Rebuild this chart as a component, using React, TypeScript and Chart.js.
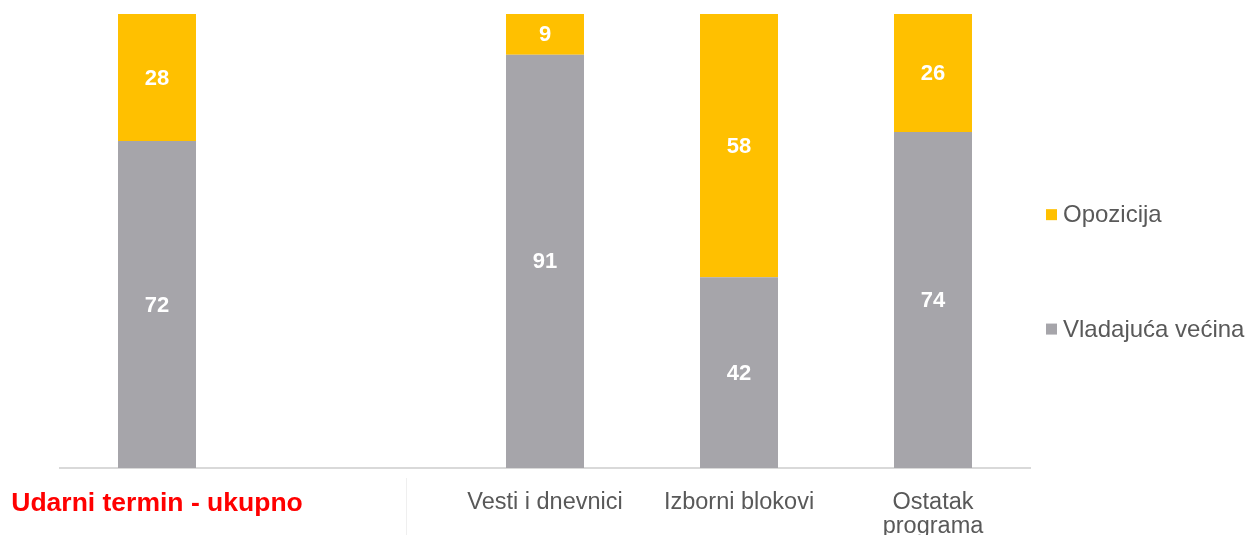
import React, { useEffect, useRef } from "react";
import { Chart, registerables } from "chart.js";

Chart.register(...registerables);

const categories: (string | string[])[] = [
  "Udarni termin - ukupno",
  "",
  "Vesti i dnevnici",
  "Izborni blokovi",
  ["Ostatak", "programa"],
];
const vladajucaVecina: (number | null)[] = [72, null, 91, 42, 74];
const opozicija: (number | null)[] = [28, null, 9, 58, 26];
const seriesNames = ["Vladajuća većina", "Opozicija"];
const seriesColors = ["#A6A5AA", "#FFC000"];

const FONT = "'Liberation Sans', Arial, sans-serif";

const valueLabels = {
  id: "valueLabels",
  afterDatasetsDraw(chart: any) {
    const ctx = chart.ctx;
    ctx.save();
    ctx.fillStyle = "#ffffff";
    ctx.font = `bold 22px ${FONT}`;
    ctx.textAlign = "center";
    ctx.textBaseline = "middle";
    chart.data.datasets.forEach((ds: any, di: number) => {
      const meta = chart.getDatasetMeta(di);
      meta.data.forEach((el: any, i: number) => {
        const v = ds.data[i];
        if (v === null || v === undefined) return;
        ctx.fillText(String(v), el.x, (el.y + el.base) / 2 + 1);
      });
    });
    ctx.restore();
  },
};

const sideLegend = {
  id: "sideLegend",
  afterDraw(chart: any) {
    const ctx = chart.ctx;
    const area = chart.chartArea;
    const yScale = chart.scales.y;
    const x = area.right + 16;
    const rows = [
      { label: seriesNames[1], color: seriesColors[1], y: yScale.getPixelForValue(55.8) },
      { label: seriesNames[0], color: seriesColors[0], y: yScale.getPixelForValue(30.6) },
    ];
    ctx.save();
    ctx.font = `24px ${FONT}`;
    ctx.textBaseline = "middle";
    ctx.textAlign = "left";
    rows.forEach((r) => {
      ctx.fillStyle = r.color;
      ctx.fillRect(x, r.y - 5.5, 11, 11);
      ctx.fillStyle = "#595959";
      ctx.fillText(r.label, x + 17, r.y + 1);
    });
    ctx.strokeStyle = "#efefef";
    ctx.lineWidth = 1;
    ctx.beginPath();
    ctx.moveTo(406.5, area.bottom + 10);
    ctx.lineTo(406.5, chart.height);
    ctx.stroke();
    ctx.restore();
  },
};

export default function App() {
  const ref = useRef<HTMLCanvasElement | null>(null);
  useEffect(() => {
    if (!ref.current) return;
    const chart = new Chart(ref.current, {
      type: "bar",
      data: {
        labels: categories as any,
        datasets: [
          {
            label: seriesNames[0],
            data: vladajucaVecina,
            backgroundColor: seriesColors[0],
            categoryPercentage: 1,
            barPercentage: 0.402,
          },
          {
            label: seriesNames[1],
            data: opozicija,
            backgroundColor: seriesColors[1],
            categoryPercentage: 1,
            barPercentage: 0.402,
          },
        ],
      },
      options: {
        animation: false,
        responsive: true,
        maintainAspectRatio: false,
        layout: { padding: { left: 60, right: 219, top: 14, bottom: 0 } },
        plugins: { legend: { display: false }, tooltip: { enabled: false } },
        scales: {
          x: {
            stacked: true,
            grid: { display: false },
            border: { display: true, color: "#D9D9D9", width: 2 },
            afterFit: (scale: any) => {
              scale.height = 67;
              scale.paddingLeft = 0;
              scale.paddingRight = 0;
            },
            ticks: {
              autoSkip: false,
              maxRotation: 0,
              minRotation: 0,
              padding: 14,
              color: (c: any) => (c.index === 0 ? "#FF0000" : "#595959"),
              font: (c: any) =>
                c.index === 0
                  ? { family: FONT, size: 26.5, weight: "bold", lineHeight: 1.0 }
                  : { family: FONT, size: 23.5, weight: "normal", lineHeight: 1.04 },
            },
          },
          y: {
            stacked: true,
            display: false,
            min: 0,
            max: 100,
          },
        },
      },
      plugins: [valueLabels, sideLegend],
    });
    return () => chart.destroy();
  }, []);
  return (
    <div style={{ position: "fixed", left: 0, top: 0, width: 1249, height: 535, background: "#fff" }}>
      <canvas ref={ref} />
    </div>
  );
}
